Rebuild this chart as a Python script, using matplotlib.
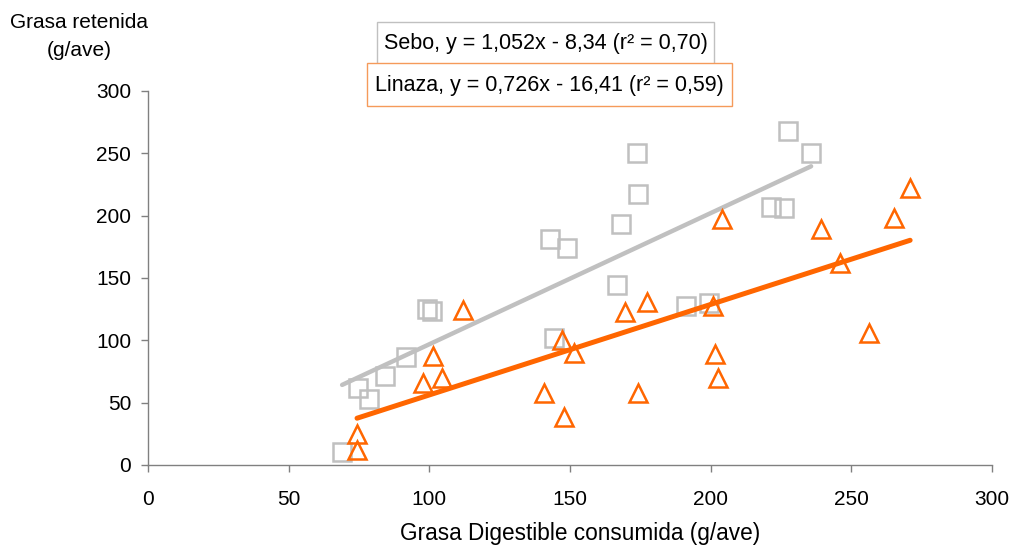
import matplotlib
matplotlib.use("Agg")
import matplotlib.pyplot as plt
from matplotlib.patches import Rectangle
import numpy as np

plt.rcParams['font.family'] = ['Liberation Sans', 'DejaVu Sans']

# Sebo (squares)
sebo_x = [69.0, 74.6, 78.6, 84.2, 91.7, 99.2, 101.0, 142.9, 148.9, 144.3,
          168.1, 166.7, 173.8, 174.2, 191.2, 199.4, 221.4, 226.1, 227.5, 235.7]
sebo_y = [10.4, 61.8, 52.9, 71.4, 86.6, 125.1, 123.5, 181.3, 174.1, 101.9,
          193.3, 144.4, 250.3, 217.4, 127.5, 129.9, 206.9, 206.1, 267.9, 250.3]
# Linaza (triangles)
lin_x = [74.3, 74.3, 112.0, 101.3, 97.7, 104.5, 140.8, 147.9, 147.2, 151.4, 169.6,
         177.4, 174.2, 204.0, 200.8, 201.5, 202.6, 239.2, 246.0, 256.3, 265.2, 270.9]
lin_y = [24.9, 12.0, 124.3, 87.4, 65.8, 69.8, 57.8, 38.5, 100.3, 89.8, 122.7,
         130.7, 57.8, 197.3, 127.5, 89.0, 69.8, 189.3, 162.0, 105.9, 198.1, 222.2]

sebo_fit = (1.052, -8.34, 0.70)
lin_fit = (0.726, -16.41, 0.59)

xticks = [0, 50, 100, 150, 200, 250, 300]
yticks = [0, 50, 100, 150, 200, 250, 300]

gray = '#c0c0c0'
orange = '#ff6600'

W, H = 1012, 546
fig = plt.figure(figsize=(W/100, H/100), dpi=100)
ax = fig.add_axes([148/W, 1-465/H, (992-148)/W, (465-91)/H])

ax.plot(sebo_x, sebo_y, linestyle='none', marker='s', markersize=13,
        markerfacecolor='none', markeredgecolor=gray, markeredgewidth=1.8, zorder=3)
ax.plot(lin_x, lin_y, linestyle='none', marker='^', markersize=13,
        markerfacecolor='none', markeredgecolor=orange, markeredgewidth=1.8, zorder=4)

xs = np.array([min(sebo_x), max(sebo_x)])
ax.plot(xs, sebo_fit[0]*xs + sebo_fit[1], color=gray, lw=3.2, solid_capstyle='round', zorder=2)
xl = np.array([min(lin_x), max(lin_x)])
ax.plot(xl, lin_fit[0]*xl + lin_fit[1], color=orange, lw=3.6, solid_capstyle='round', zorder=5)

ax.set_xlim(0, 300)
ax.set_ylim(0, 300)
ax.set_xticks(xticks)
ax.set_yticks(yticks)
ax.set_xticklabels([str(t) for t in xticks])
ax.set_yticklabels([str(t) for t in yticks])
for s in ['top', 'right']:
    ax.spines[s].set_visible(False)
for s in ['left', 'bottom']:
    ax.spines[s].set_color('#808080')
    ax.spines[s].set_linewidth(1.0)
ax.tick_params(direction='out', length=5, width=1.0, color='#808080',
               labelsize=15, labelcolor='black')
ax.tick_params(axis='y', pad=7)
ax.tick_params(axis='x', pad=13)

fig.text(580/W, 1-540/H, 'Grasa Digestible consumida (g/ave)', ha='center', va='baseline', fontsize=16.3)
fig.text(79/W, 1-22/H, 'Grasa retenida', ha='center', va='center', fontsize=15)
fig.text(79/W, 1-50/H, '(g/ave)', ha='center', va='center', fontsize=15)

def fmt(v, nd):
    return f"{v:.{nd}f}".replace('.', ',')

sebo_txt = f"Sebo, y = {fmt(sebo_fit[0],3)}x - {fmt(-sebo_fit[1],2)} (r² = {fmt(sebo_fit[2],2)})"
lin_txt = f"Linaza, y = {fmt(lin_fit[0],3)}x - {fmt(-lin_fit[1],2)} (r² = {fmt(lin_fit[2],2)})"

def box(x0, y0, x1, y1, ec):
    fig.patches.append(Rectangle((x0/W, 1-y1/H), (x1-x0)/W, (y1-y0)/H, transform=fig.transFigure,
                                 facecolor='white', edgecolor=ec, linewidth=1.0, zorder=1))

box(377, 22, 714, 64, gray)
box(367, 63, 732, 106, '#f59a5a')
fig.text(545.5/W, 1-43.5/H, sebo_txt, ha='center', va='center', fontsize=15.5, zorder=3)
fig.text(549.5/W, 1-85/H, lin_txt, ha='center', va='center', fontsize=15.5, zorder=3)

fig.savefig('out.png', dpi=100)
